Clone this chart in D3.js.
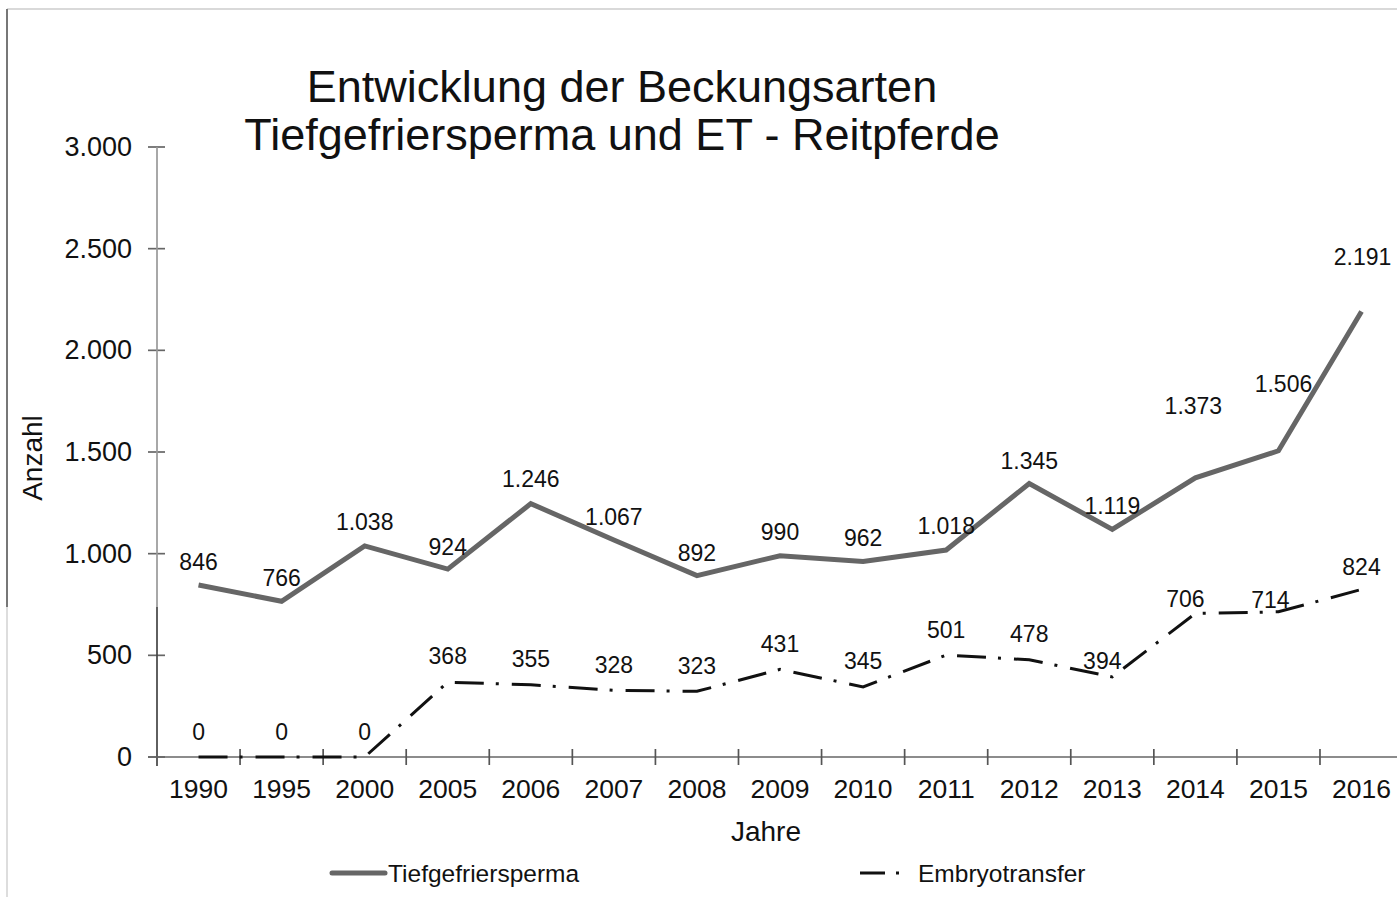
<!DOCTYPE html>
<html lang="de">
<head>
    <meta charset="UTF-8">
    <title>Beckungsarten</title>
    <script src="https://d3js.org/d3.v7.min.js"></script>
    <style>
        body { margin: 0; background: #fff; }
        text { font-family: "Liberation Sans", Arial, sans-serif; fill: #111; }
    </style>
</head>
<body>
<script>

    // data
    var years = ["1990", "1995", "2000", "2005", "2006", "2007", "2008", "2009", "2010", "2011", "2012", "2013", "2014", "2015", "2016"]
    var tiefgefrier = [846, 766, 1038, 924, 1246, 1067, 892, 990, 962, 1018, 1345, 1119, 1373, 1506, 2191]
    var embryo = [0, 0, 0, 368, 355, 328, 323, 431, 345, 501, 478, 394, 706, 714, 824]
    var yTicks = [0, 500, 1000, 1500, 2000, 2500, 3000]

    // label nudges (px) so the value labels sit where the original had them
    var tiefLabelDy = [-23, -23, -24, -22, -25, -23, -23, -24, -23, -24, -23, -24, -72, -67, -55]
    var tiefLabelDx = [0, 0, 0, 0, 0, 0, 0, 0, 0, 0, 0, 0, -2, 5, 1]
    var embLabelDy = [-25, -25, -25, -26, -26, -25, -25, -25, -26, -25, -26, -16, -14, -12, -23]
    var embLabelDx = [0, 0, 0, 0, 0, 0, 0, 0, 0, 0, 0, -10, -10, -8, 0]

    var width = 1397
    var height = 897

    var de = d3.formatLocale({decimal: ",", thousands: ".", grouping: [3], currency: ["", " €"]})
    var fmt = de.format(",d")

    var svg = d3.select("body").append("svg")
        .attr("width", width)
        .attr("height", height)

    var x = d3.scaleBand()
        .domain(years)
        .range([157, 157 + 83.07 * years.length])
        .padding(0)
    var y = d3.scaleLinear()
        .domain([0, 3000])
        .range([757, 147])

    function cx(d) { return x(d) + x.bandwidth() / 2 }

    // frame of the pasted chart
    svg.append("line")
        .attr("x1", 7).attr("y1", 9).attr("x2", width).attr("y2", 9)
        .attr("stroke", "#d9d9d9").attr("stroke-width", 2)
    svg.append("line")
        .attr("x1", 7).attr("y1", 9).attr("x2", 7).attr("y2", 607)
        .attr("stroke", "#777").attr("stroke-width", 2)
    svg.append("line")
        .attr("x1", 7).attr("y1", 607).attr("x2", 7).attr("y2", height)
        .attr("stroke", "#ddd").attr("stroke-width", 2)

    // title
    var title = svg.append("text")
        .attr("text-anchor", "middle")
        .style("font-size", "45px")
    title.append("tspan").attr("x", 622).attr("y", 102).text("Entwicklung der Beckungsarten")
    title.append("tspan").attr("x", 622).attr("y", 150).text("Tiefgefriersperma und ET - Reitpferde")

    // y axis
    var yAxis = svg.append("g")
        .attr("transform", "translate(157,0)")
        .call(d3.axisLeft(y).tickValues(yTicks).tickFormat(fmt).tickSize(0).tickPadding(25))
    yAxis.select(".domain").remove()
    yAxis.selectAll("text").style("font-size", "27px").attr("fill", "#111")
    yAxis.selectAll(".yt")
        .data(yTicks).enter().append("line")
        .attr("x1", -9).attr("x2", 8)
        .attr("y1", function (d) { return y(d) }).attr("y2", function (d) { return y(d) })
        .attr("stroke", "#666").attr("stroke-width", 1.7)
    yAxis.append("line")
        .attr("x1", 0).attr("x2", 0).attr("y1", y(3000)).attr("y2", 607)
        .attr("stroke", "#999").attr("stroke-width", 1.7)
    yAxis.append("line")
        .attr("x1", 0).attr("x2", 0).attr("y1", 607).attr("y2", y(0) + 9)
        .attr("stroke", "#444").attr("stroke-width", 1.7)

    // x axis
    var xAxis = svg.append("g")
        .attr("transform", "translate(0," + y(0) + ")")
    xAxis.append("line")
        .attr("x1", 148).attr("x2", width)
        .attr("y1", 0).attr("y2", 0)
        .attr("stroke", "#666").attr("stroke-width", 1.7)
    xAxis.selectAll(".xt")
        .data(years.slice(1)).enter().append("line")
        .attr("x1", function (d) { return x(d) }).attr("x2", function (d) { return x(d) })
        .attr("y1", -8).attr("y2", 8)
        .attr("stroke", "#555").attr("stroke-width", 1.7)
    xAxis.selectAll(".xl")
        .data(years).enter().append("text")
        .attr("x", cx)
        .attr("y", 32)
        .attr("dy", "0.35em")
        .attr("text-anchor", "middle")
        .style("font-size", "26.5px")
        .text(function (d) { return d })

    // axis titles
    svg.append("text")
        .attr("x", 766).attr("y", 831).attr("dy", "0.35em")
        .attr("text-anchor", "middle")
        .style("font-size", "28px")
        .text("Jahre")
    svg.append("text")
        .attr("transform", "translate(32,458) rotate(-90)")
        .attr("dy", "0.35em")
        .attr("text-anchor", "middle")
        .style("font-size", "28px")
        .text("Anzahl")

    // lines
    var line = d3.line()
        .x(function (d, i) { return cx(years[i]) })
        .y(function (d) { return y(d) })

    svg.append("path")
        .datum(tiefgefrier)
        .attr("d", line)
        .attr("fill", "none")
        .attr("stroke", "#666")
        .attr("stroke-width", 5)
        .attr("stroke-linejoin", "miter")

    svg.append("path")
        .datum(embryo)
        .attr("d", line)
        .attr("fill", "none")
        .attr("stroke", "#111")
        .attr("stroke-width", 3)
        .attr("stroke-dasharray", "29,12,3,13")

    // value labels
    svg.selectAll(".tl")
        .data(tiefgefrier).enter().append("text")
        .attr("x", function (d, i) { return cx(years[i]) + tiefLabelDx[i] })
        .attr("y", function (d, i) { return y(d) + tiefLabelDy[i] })
        .attr("dy", "0.35em")
        .attr("text-anchor", "middle")
        .style("font-size", "23px")
        .text(fmt)

    svg.selectAll(".el")
        .data(embryo).enter().append("text")
        .attr("x", function (d, i) { return cx(years[i]) + embLabelDx[i] })
        .attr("y", function (d, i) { return y(d) + embLabelDy[i] })
        .attr("dy", "0.35em")
        .attr("text-anchor", "middle")
        .style("font-size", "23px")
        .text(fmt)

    // legend
    var legend = svg.append("g")
    legend.append("line")
        .attr("x1", 332).attr("x2", 385).attr("y1", 873).attr("y2", 873)
        .attr("stroke", "#666").attr("stroke-width", 5).attr("stroke-linecap", "round")
    legend.append("text")
        .attr("x", 388).attr("y", 873).attr("dy", "0.35em")
        .style("font-size", "24.5px")
        .text("Tiefgefriersperma")
    legend.append("line")
        .attr("x1", 860).attr("x2", 900).attr("y1", 873).attr("y2", 873)
        .attr("stroke", "#111").attr("stroke-width", 3)
        .attr("stroke-dasharray", "25,11,3,40")
    legend.append("text")
        .attr("x", 918).attr("y", 873).attr("dy", "0.35em")
        .style("font-size", "24.5px")
        .text("Embryotransfer")

</script>
</body>
</html>
